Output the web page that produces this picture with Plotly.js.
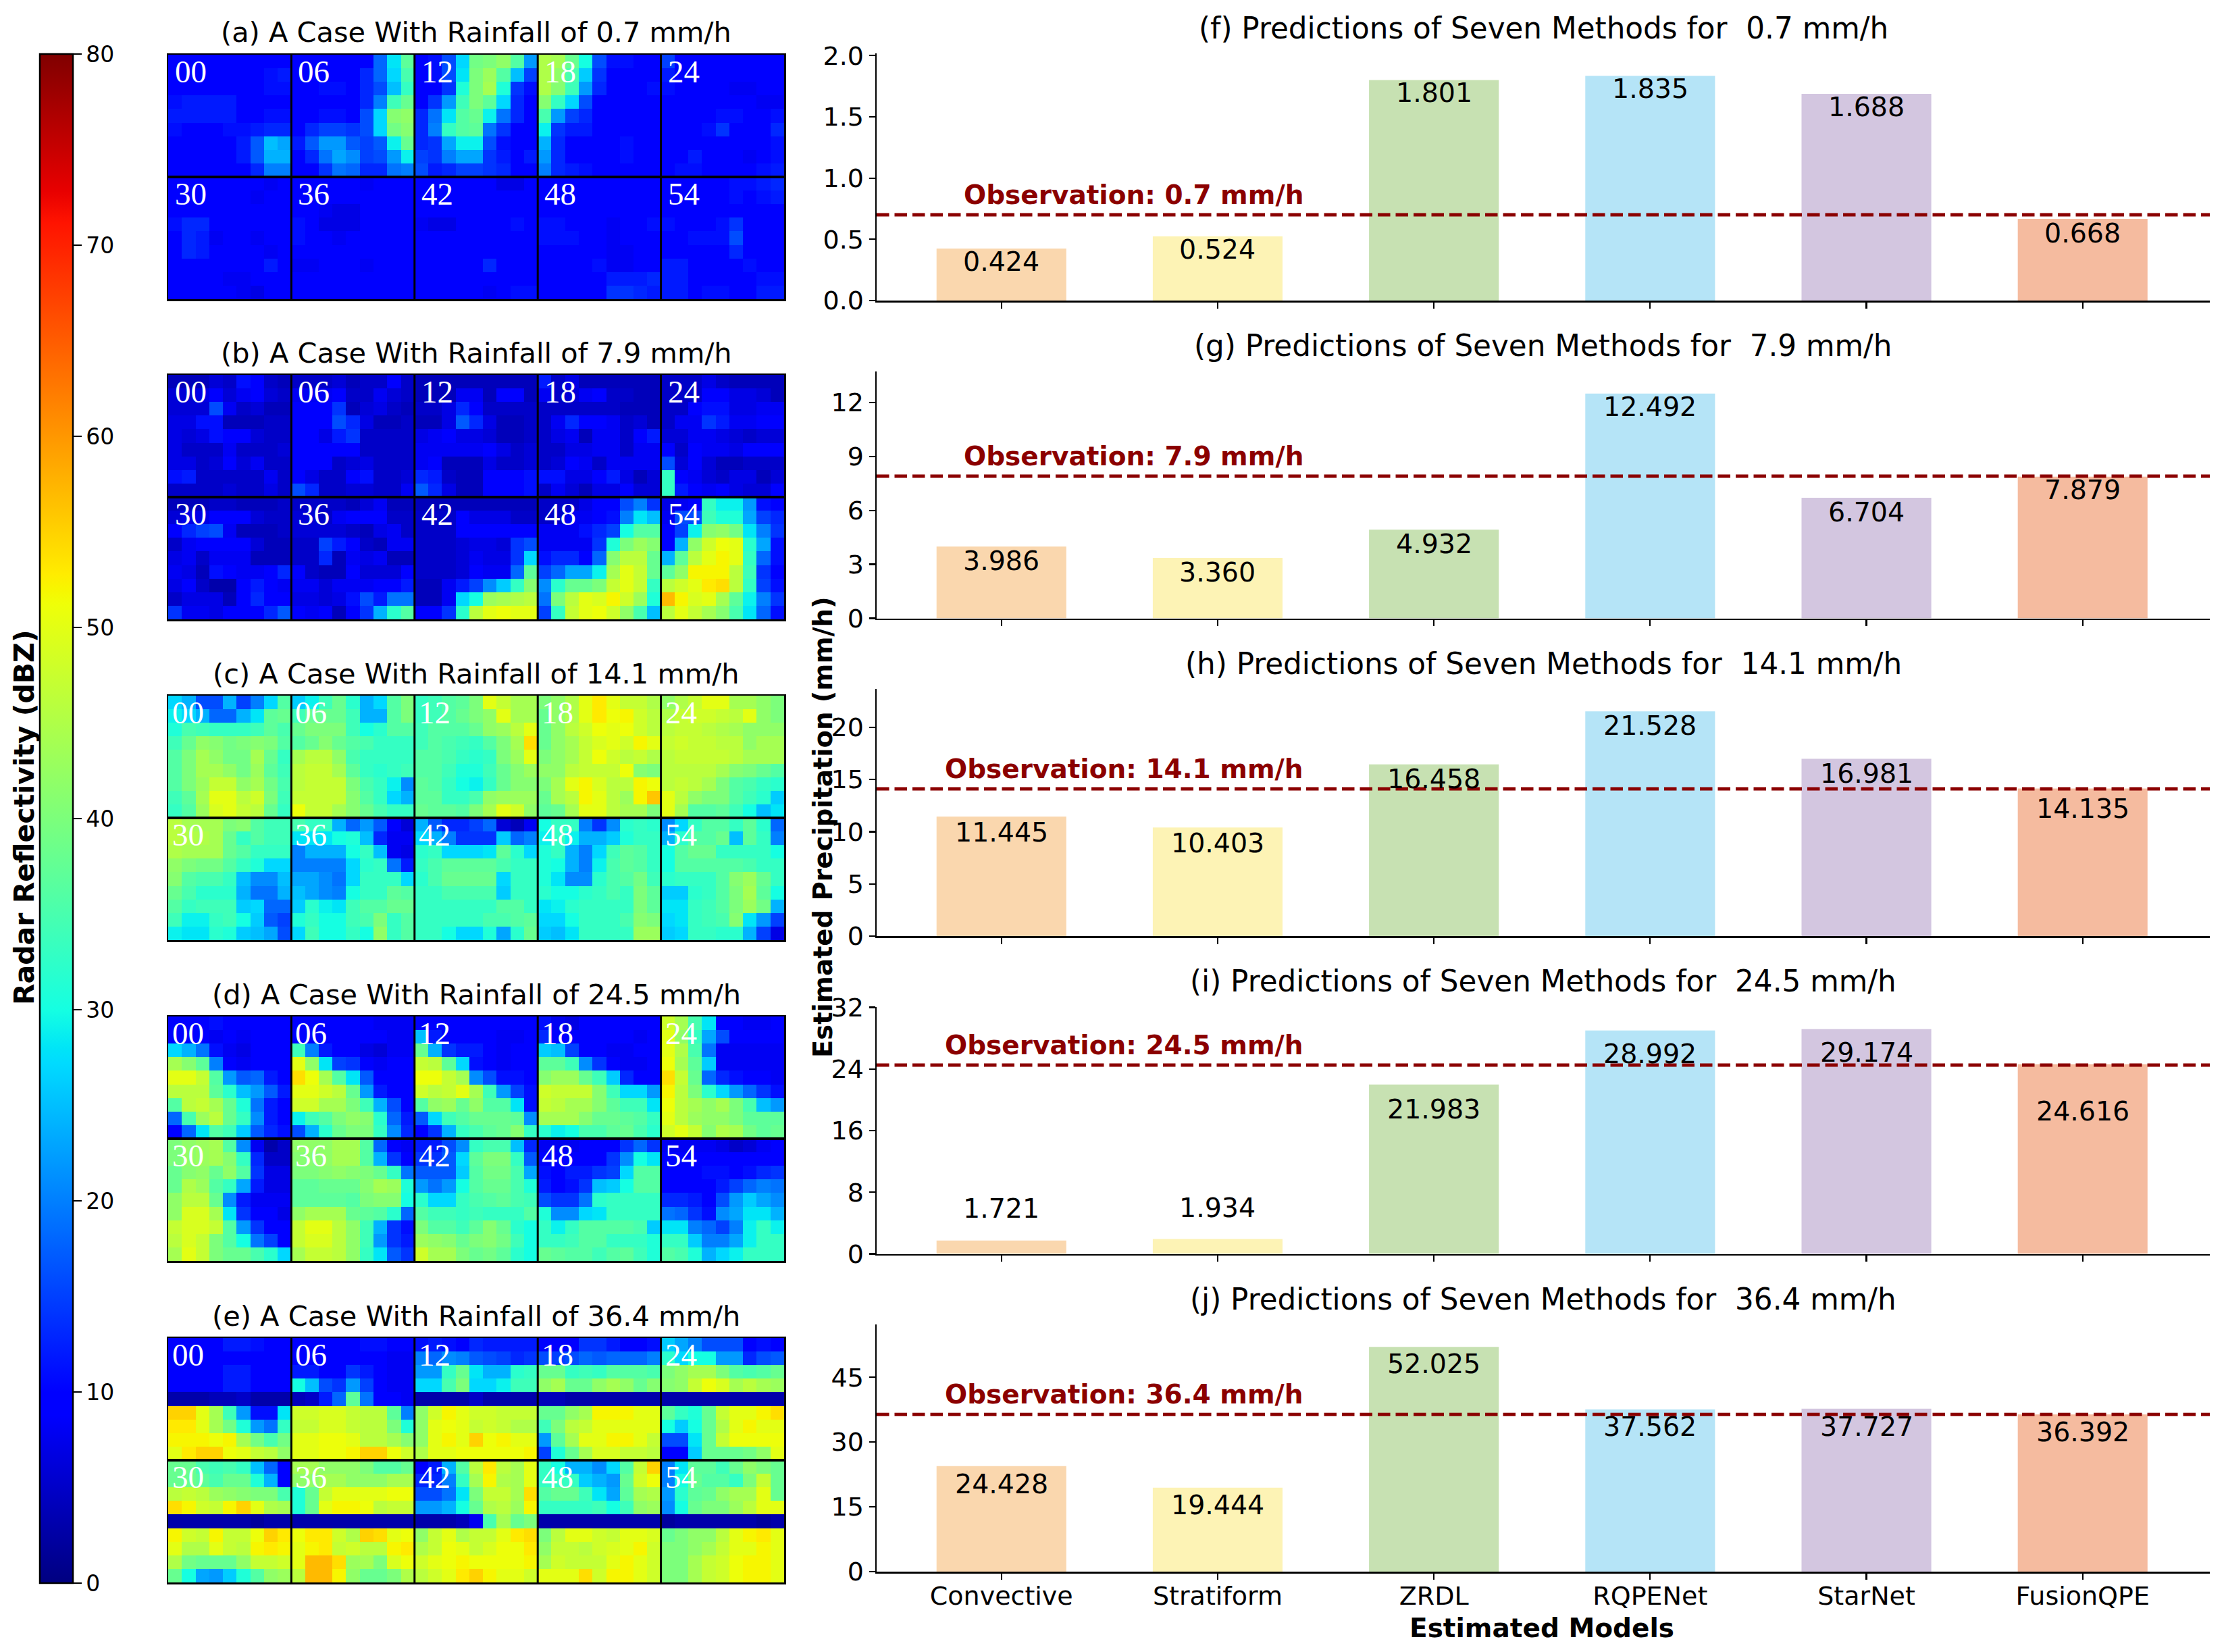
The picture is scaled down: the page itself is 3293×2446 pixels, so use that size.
<!DOCTYPE html>
<html><head><meta charset="utf-8">
<script src="https://cdn.plot.ly/plotly-3.0.1.min.js"></script>
<style>html,body{margin:0;padding:0;background:#fff}</style></head>
<body><div id="chart" style="width:3293px;height:2446px"></div>
<script>
const models=["Convective","Stratiform","ZRDL","RQPENet","StarNet","FusionQPE"];
const frameLabels=["00","06","12","18","24","30","36","42","48","54"];
const observed=[0.7,7.9,14.1,24.5,36.4];
const predF=[0.424,0.524,1.801,1.835,1.688,0.668];
const predG=[3.986,3.360,4.932,12.492,6.704,7.879];
const predH=[11.445,10.403,16.458,21.528,16.981,14.135];
const predI=[1.721,1.934,21.983,28.992,29.174,24.616];
const predJ=[24.428,19.444,52.025,37.562,37.727,36.392];
const yTickSteps=[0.5,3,5,8,15];
const barColors=["#FAD7AE","#FDF3B5","#C7E1B2","#B5E4F7","#D3C6E0","#F5BB9F"];
const caseA=[
[[9,9,9,9,9,9,10,10,10],[10,10,9,9,9,9,10,11,12],[10,10,10,10,10,10,10,11,11],[11,12,12,12,12,10,10,10,10],[12,12,12,12,12,10,10,11,11],[11,10,10,10,11,11,12,13,13],[10,10,9,9,10,12,17,25,23],[10,10,10,10,10,12,17,24,24],[10,10,10,10,10,10,13,20,20]],
[[10,10,10,10,10,10,18,28,37],[10,10,10,10,10,13,18,27,35],[10,10,11,11,10,13,16,25,33],[9,9,10,10,10,13,20,34,38],[10,10,11,11,10,16,27,41,42],[10,13,15,15,14,16,27,39,41],[12,17,22,22,17,15,17,29,38],[10,13,19,23,21,15,16,22,29],[9,10,14,19,18,13,13,19,20]],
[[10,11,16,27,39,40,42,36,22],[10,11,16,28,40,43,36,25,15],[10,10,14,31,40,44,31,14,11],[10,14,22,34,40,37,27,13,10],[13,19,28,36,38,29,19,13,10],[13,20,33,36,37,19,14,10,10],[13,14,23,29,29,16,11,9,9],[15,14,20,23,23,14,12,10,12],[16,12,13,15,15,14,13,10,10]],
[[45,44,38,30,16,11,11,10,10],[45,42,35,26,14,10,10,10,10],[45,41,34,22,13,10,10,10,11],[41,33,27,16,10,10,10,10,10],[35,22,15,13,10,10,10,10,10],[29,14,12,12,10,10,10,10,10],[24,13,10,10,10,10,11,10,10],[22,13,10,10,9,9,11,10,10],[20,13,12,11,9,9,10,10,10]],
[[15,10,10,10,10,10,10,10,10],[12,10,10,10,10,10,10,9,9],[11,10,10,10,10,8,8,9,9],[10,10,10,10,10,9,9,8,8],[10,10,10,10,11,11,10,9,11],[10,10,10,11,14,10,10,10,13],[9,10,10,10,10,10,9,10,11],[10,10,12,10,10,9,8,10,11],[10,11,11,10,10,10,10,11,12]],
[[9,9,9,9,9,9,9,8,9],[9,9,9,9,9,9,8,9,9],[10,10,10,9,9,9,9,9,9],[11,13,13,9,9,9,9,9,9],[10,13,12,8,9,9,8,9,9],[10,13,12,9,9,9,9,8,9],[9,9,9,9,9,9,9,12,9],[9,9,9,9,8,8,9,10,9],[10,9,9,9,9,8,7,9,9]],
[[10,10,10,9,9,8,9,10,10],[10,10,10,10,9,9,9,10,10],[10,10,8,7,7,9,9,9,10],[11,9,7,7,7,9,9,9,9],[11,10,9,8,9,9,9,9,9],[10,9,9,9,9,9,10,10,10],[8,8,9,9,9,8,10,10,10],[10,9,9,9,9,9,10,10,10],[10,10,10,10,10,10,10,10,10]],
[[10,10,10,10,10,9,7,7,9],[10,10,10,10,10,10,9,9,9],[10,10,10,10,10,10,9,9,10],[8,7,7,9,9,9,10,11,10],[9,9,9,9,9,9,9,9,9],[9,9,9,9,9,9,9,9,10],[9,9,9,9,9,13,10,9,10],[9,9,9,9,9,10,10,10,10],[9,9,9,9,10,8,9,11,11]],
[[10,10,10,10,9,9,10,10,10],[10,10,10,10,9,9,10,10,10],[10,10,10,10,9,9,9,10,10],[11,11,10,10,10,8,9,10,11],[11,11,11,10,10,8,9,9,10],[10,10,10,10,10,8,8,9,10],[10,10,10,10,11,8,8,9,10],[9,10,10,10,10,12,12,12,13],[9,10,10,10,10,14,14,13,12]],
[[10,10,10,10,10,11,11,12,13],[10,10,10,10,10,11,10,11,12],[10,10,10,10,10,10,10,10,10],[11,10,10,10,11,14,10,10,10],[10,10,11,11,11,16,10,10,10],[10,10,10,10,10,13,10,10,10],[12,12,10,10,10,10,11,10,10],[12,12,10,10,10,9,10,11,11],[12,12,10,11,11,9,10,12,12]]];
const caseB=[
[[4,4,4,6,5,11,9,5,4],[6,6,7,10,6,8,10,6,5],[6,6,6,16,8,5,6,4,4],[7,7,11,11,4,4,4,5,5],[7,6,7,11,10,10,6,5,5],[7,5,5,5,8,5,5,5,6],[7,7,5,6,10,6,8,5,5],[11,12,5,5,5,5,5,8,5],[5,5,5,5,6,5,5,7,5]],
[[5,5,5,6,4,5,5,9,5],[8,8,8,10,5,5,8,6,5],[9,9,9,14,4,6,7,5,4],[10,10,9,16,13,7,4,4,5],[10,10,7,12,14,5,5,5,5],[10,10,9,9,9,5,5,5,5],[10,10,9,5,6,7,5,5,5],[10,7,5,5,9,11,5,5,6],[16,13,5,5,6,6,5,5,8]],
[[4,4,4,4,4,4,4,4,4],[4,4,4,8,8,4,10,10,4],[5,5,7,13,10,5,5,5,5],[4,4,7,17,13,7,4,4,5],[7,8,10,7,7,6,4,4,5],[8,8,8,8,8,10,7,5,6],[8,9,4,4,4,7,5,5,6],[13,12,5,4,4,9,10,10,11],[17,13,7,4,4,10,9,9,11]],
[[12,5,7,4,4,4,4,4,4],[8,5,6,8,9,5,5,4,4],[5,5,5,5,5,5,4,4,4],[5,8,13,10,10,8,5,6,4],[5,7,8,4,8,8,5,10,12],[5,5,7,7,8,8,5,8,8],[5,6,10,8,5,8,8,8,8],[11,11,7,7,9,12,7,4,6],[5,8,6,4,7,7,10,6,6]],
[[5,5,5,7,5,4,4,4,4],[5,5,5,9,9,7,7,6,4],[5,5,10,11,11,7,7,8,8],[5,8,8,14,12,8,8,9,10],[6,6,8,8,7,6,5,6,6],[9,5,9,8,8,7,9,9,10],[16,6,10,6,4,4,5,5,5],[33,10,8,6,5,7,7,4,6],[33,12,9,8,9,7,6,6,10]],
[[4,4,4,5,5,4,4,4,5],[6,7,7,9,9,10,6,5,5],[9,13,15,16,8,4,4,4,5],[5,8,10,10,9,9,6,4,4],[7,8,5,8,8,8,4,4,4],[8,7,4,11,9,8,8,10,13],[7,9,5,3,3,9,12,9,8],[5,7,7,7,4,9,13,10,9],[14,8,8,7,9,9,9,13,17]],
[[5,5,5,5,4,6,8,4,4],[6,6,5,8,10,10,10,5,5],[6,6,6,6,5,4,7,8,5],[5,5,15,12,10,5,4,8,8],[5,5,13,4,8,7,8,4,4],[9,5,4,4,10,6,6,6,9],[8,8,6,8,8,8,9,9,12],[7,7,6,7,11,16,12,19,19],[9,8,9,4,10,14,24,32,36]],
[[4,4,4,4,4,4,4,4,4],[5,5,5,9,7,7,7,5,5],[5,5,5,9,9,9,9,9,9],[5,5,5,6,7,7,6,14,16],[5,5,5,6,8,7,7,14,27],[5,5,5,6,10,8,8,18,37],[4,4,8,12,15,21,26,33,41],[4,4,8,27,30,43,44,45,46],[10,10,14,32,46,50,51,50,50]],
[[5,5,5,7,10,10,16,20,14],[5,5,8,8,9,11,20,28,25],[8,8,8,11,13,15,30,36,36],[8,8,8,8,14,31,40,43,41],[11,13,13,9,18,41,46,46,38],[15,18,23,23,29,44,50,47,38],[21,32,38,38,40,47,50,47,33],[19,40,46,50,49,52,48,43,31],[15,33,47,50,51,48,42,35,25]],
[[7,8,10,33,29,29,22,11,10],[8,16,16,34,31,31,23,15,13],[10,15,29,41,42,39,28,20,14],[10,24,42,48,51,50,32,23,11],[24,37,46,50,52,50,33,18,11],[37,42,52,52,52,46,34,14,9],[46,48,50,53,54,46,33,15,11],[57,52,49,50,44,37,29,20,14],[46,50,47,44,41,35,28,18,11]]];
const caseC=[
[[27,24,16,16,24,15,20,27,36],[29,27,24,18,18,24,28,37,38],[31,35,34,33,33,33,34,37,35],[34,38,42,41,39,40,41,40,36],[36,40,44,42,39,39,44,38,33],[36,40,44,44,42,39,43,37,34],[36,40,43,47,47,42,44,39,35],[34,37,44,50,50,46,48,40,34],[33,36,43,49,50,47,46,38,33]],
[[26,29,34,38,32,24,27,36,40],[34,38,38,38,34,24,24,36,40],[38,40,40,40,34,30,32,36,36],[36,38,41,38,36,35,33,33,33],[44,46,46,42,35,33,33,33,33],[46,47,47,44,37,33,32,33,34],[46,47,47,47,40,35,33,29,21],[47,47,47,47,41,36,33,27,24],[51,47,47,44,41,38,35,33,33]],
[[33,34,36,37,40,50,47,44,44],[33,34,36,38,40,42,50,44,44],[34,36,36,36,38,42,43,46,50],[34,36,35,34,33,36,40,44,54],[36,36,35,33,32,33,40,43,50],[36,36,34,31,31,34,38,41,43],[37,36,33,30,29,33,38,41,41],[37,37,33,33,35,42,43,43,43],[38,37,37,36,40,44,50,48,42]],
[[40,42,45,50,53,50,47,47,45],[38,42,45,50,53,51,52,48,46],[38,42,46,48,51,50,51,48,46],[38,42,44,47,49,50,48,52,50],[40,42,44,47,51,48,46,47,45],[42,42,46,47,47,47,51,41,40],[40,44,50,52,49,46,46,52,51],[38,44,46,52,50,46,43,52,56],[37,38,44,50,50,46,44,44,40]],
[[42,45,47,50,50,44,44,42,40],[45,47,48,48,47,46,50,42,40],[46,47,47,46,45,44,42,42,42],[47,48,47,47,46,46,42,44,44],[46,47,47,47,47,46,44,44,44],[46,46,46,46,44,41,40,38,36],[46,47,46,44,40,36,35,33,32],[50,46,42,40,40,36,34,32,26],[50,44,36,36,37,34,30,25,28]],
[[46,44,44,44,40,41,36,34,34],[46,45,45,44,38,33,36,34,34],[45,44,44,44,38,36,33,33,33],[42,40,39,39,36,33,31,27,27],[41,36,35,35,33,25,21,21,25],[38,35,32,32,32,24,19,19,24],[36,33,34,34,34,26,27,18,18],[34,29,29,33,34,30,26,17,15],[29,28,28,32,31,26,25,23,16]],
[[35,33,33,24,18,22,17,9,6],[28,28,28,30,31,25,13,8,8],[20,24,24,24,30,33,25,8,7],[20,20,20,20,27,32,33,19,12],[23,23,21,19,27,33,33,33,27],[25,23,21,20,30,33,33,37,36],[26,32,29,28,34,36,36,38,38],[31,33,30,30,34,35,40,33,36],[27,34,30,30,33,30,42,33,36]],
[[24,17,13,13,15,18,6,4,8],[27,24,20,14,14,14,26,18,20],[32,33,27,27,27,28,37,32,27],[33,35,37,37,37,37,35,33,33],[32,35,38,38,38,38,27,33,33],[33,33,35,35,35,35,26,33,33],[33,33,33,33,33,33,36,36,33],[33,33,33,33,33,35,35,36,37],[33,33,30,27,27,31,23,32,38]],
[[30,33,33,20,14,21,32,33,32],[29,33,29,24,24,26,31,33,33],[31,33,24,20,27,34,37,36,33],[31,30,24,20,29,35,37,36,33],[31,28,21,21,32,35,36,39,34],[32,30,30,32,33,35,33,40,37],[28,29,32,33,33,33,33,40,37],[27,27,30,33,33,33,35,41,40],[26,25,28,33,33,33,33,43,43]],
[[21,27,33,36,36,33,37,32,18],[24,32,36,36,38,25,37,33,20],[30,36,38,38,33,33,33,33,30],[30,36,36,36,36,36,35,33,33],[32,33,33,33,36,41,43,38,33],[26,26,32,33,36,40,44,37,30],[28,28,33,34,36,40,43,39,24],[27,28,33,34,35,41,28,22,15],[26,27,33,33,32,32,24,15,7]]];
const caseD=[
[[10,10,10,11,10,9,9,9,9],[10,10,10,8,10,8,9,9,9],[27,24,19,11,8,7,9,9,9],[44,41,37,20,9,8,9,9,9],[50,50,47,36,22,17,18,12,9],[46,46,46,37,32,25,22,17,12],[36,46,47,44,38,31,19,12,10],[18,35,43,46,38,33,21,12,10],[10,18,28,36,34,26,17,13,11]],
[[9,9,9,9,9,9,8,8,8],[10,9,9,9,9,9,9,8,8],[34,20,12,9,9,7,6,8,8],[50,42,28,15,14,9,8,9,9],[54,51,44,36,28,17,10,9,9],[50,50,48,46,38,22,12,9,9],[48,48,44,44,40,34,24,16,10],[29,34,36,40,42,41,32,18,12],[16,24,32,38,40,40,33,21,13]],
[[10,10,10,10,9,9,9,9,9],[25,12,9,9,9,9,8,8,9],[38,24,14,12,12,9,8,9,9],[47,46,37,27,11,9,8,9,9],[51,51,47,44,21,16,11,11,9],[48,46,47,50,44,34,22,15,11],[36,42,43,38,42,36,36,28,11],[17,27,34,36,38,38,38,37,21],[10,14,24,33,35,37,38,41,33]],
[[11,8,7,9,9,9,9,9,9],[13,10,9,9,9,9,9,8,9],[26,25,15,9,9,8,8,9,9],[37,37,34,21,14,10,8,8,9],[41,43,43,38,34,26,13,10,9],[48,47,47,47,41,34,27,27,22],[47,46,44,44,41,37,34,34,28],[44,44,44,41,38,38,37,36,33],[32,29,30,35,35,37,38,35,32]],
[[48,44,35,28,9,9,8,8,9],[50,42,33,23,16,9,9,9,9],[50,45,35,19,8,8,8,8,8],[51,44,37,26,8,8,8,8,8],[54,47,38,18,13,11,9,9,8],[52,46,40,32,27,22,18,14,11],[51,46,44,42,44,40,35,25,22],[50,46,43,42,42,40,37,37,37],[48,50,47,41,45,44,39,37,38]],
[[40,42,43,44,36,21,8,3,5],[40,42,43,44,41,33,13,5,5],[38,41,42,38,42,36,14,7,7],[38,45,43,36,33,23,12,7,7],[42,46,46,38,21,12,8,8,8],[42,49,49,44,28,14,9,9,7],[47,49,49,47,36,22,14,9,9],[46,49,47,40,36,30,19,15,10],[44,50,47,40,38,38,35,32,27]],
[[42,42,42,44,44,36,18,10,8],[41,41,42,44,44,36,24,14,9],[40,40,41,42,41,40,38,33,19],[37,37,38,38,38,41,44,43,31],[37,37,37,37,36,40,41,41,30],[42,44,44,44,38,37,36,32,18],[47,50,50,46,42,34,24,14,11],[47,49,49,46,42,34,22,14,12],[44,47,47,46,42,33,28,17,14]],
[[12,12,16,21,33,35,35,25,13],[14,14,17,27,37,40,40,33,17],[17,17,17,26,36,39,39,35,23],[22,19,22,30,36,38,38,35,31],[32,27,27,33,35,36,37,35,34],[36,34,34,33,34,33,33,33,36],[40,36,36,34,37,41,38,32,30],[43,42,41,38,40,41,39,34,30],[48,44,44,40,38,39,37,32,30]],
[[8,8,8,9,9,10,14,18,14],[9,9,9,9,9,14,21,30,28],[11,10,12,12,14,15,27,36,36],[12,10,11,14,25,26,30,36,36],[16,14,14,19,32,33,33,33,33],[31,21,21,27,28,33,33,33,33],[33,29,33,36,36,36,36,35,26],[33,33,34,36,36,33,33,33,31],[38,37,36,36,34,36,37,34,31]],
[[8,8,8,8,7,5,6,8,9],[9,10,10,10,9,9,9,9,10],[9,9,9,11,11,10,11,13,14],[9,9,9,9,12,15,18,20,19],[13,13,12,10,16,22,26,23,21],[19,18,14,11,21,23,28,28,24],[28,28,20,18,15,20,29,33,29],[33,33,26,20,20,23,29,33,33],[36,35,31,24,27,29,33,33,33]]];
const caseE=[
[[10,10,10,10,12,12,11,10,10],[10,10,10,10,10,10,9,9,9],[10,10,10,10,12,12,10,9,9],[10,10,10,10,12,12,10,10,10],[3,3,3,4,4,5,3,3,3],[55,55,50,44,34,22,11,11,28],[53,53,50,44,39,31,22,19,33],[52,52,52,51,52,44,39,35,39],[50,53,55,55,51,50,47,46,42]],
[[10,10,10,10,10,11,11,10,10],[10,10,10,10,10,10,9,8,8],[12,12,10,9,14,12,9,8,8],[30,25,16,14,22,15,9,8,8],[4,5,12,18,37,19,10,10,8],[48,48,49,49,47,46,46,37,20],[47,47,49,49,47,46,46,40,31],[50,50,51,51,50,46,46,44,41],[50,50,51,51,52,55,55,51,48]],
[[11,12,11,10,13,12,12,12,12],[20,18,21,20,17,16,15,13,14],[22,22,33,38,28,24,24,32,33],[27,27,35,40,27,27,29,34,34],[3,3,3,3,5,3,3,3,3],[42,48,52,50,48,48,47,47,47],[42,50,51,50,47,48,47,45,45],[42,50,52,50,55,51,52,50,50],[45,50,50,51,51,51,51,51,52]],
[[10,10,10,14,14,12,10,10,11],[16,15,16,18,17,18,18,18,20],[38,38,33,34,33,36,36,36,35],[42,44,38,38,42,44,42,38,41],[4,4,3,3,3,3,3,3,3],[38,38,42,44,52,52,52,50,50],[34,40,46,47,50,50,50,50,50],[22,37,44,50,50,52,52,50,47],[15,31,38,44,49,49,47,47,46]],
[[26,23,20,16,16,16,10,11,9],[32,27,30,30,22,22,13,16,17],[40,42,44,44,40,36,35,36,38],[41,42,47,51,49,44,46,44,43],[3,3,3,3,3,3,3,3,3],[37,33,31,38,47,50,50,52,54],[30,26,30,38,45,50,52,50,50],[16,16,28,38,47,51,51,51,51],[10,10,26,38,38,38,39,42,50]],
[[38,38,35,34,35,33,25,18,10],[38,38,37,35,38,38,31,24,10],[46,47,46,43,42,41,40,40,35],[54,52,48,47,52,55,50,45,44],[3,3,3,3,3,3,2,3,3],[52,48,47,52,47,47,51,55,53],[50,45,45,50,47,46,52,53,52],[45,39,38,38,38,42,47,47,48],[38,30,23,22,26,31,36,42,43]],
[[44,44,42,42,42,40,36,36,38],[42,42,44,44,42,42,42,44,44],[31,38,47,50,50,50,50,51,51],[31,38,50,52,52,51,46,47,47],[3,3,3,3,3,3,3,3,3],[51,53,53,48,45,55,54,50,51],[50,52,53,47,48,46,46,52,53],[50,57,57,54,43,44,40,49,51],[46,57,57,52,42,38,38,40,45]],
[[10,12,24,36,46,53,46,44,50],[13,13,20,33,44,52,45,44,50],[16,16,19,28,40,47,47,44,54],[22,22,24,30,38,45,46,43,52],[3,3,3,4,8,35,44,38,40],[42,47,50,45,47,47,50,53,54],[45,47,51,50,47,49,51,51,53],[48,50,51,52,51,51,51,51,52],[46,48,50,53,55,52,50,50,48]],
[[33,30,24,24,21,27,36,47,55],[33,33,33,26,24,22,38,48,51],[36,38,38,34,28,23,37,44,45],[33,33,33,33,34,30,34,42,43],[3,3,3,3,3,3,3,3,3],[40,46,50,50,48,47,50,50,49],[42,47,47,46,48,49,50,52,48],[44,48,47,47,47,50,52,50,48],[50,50,50,54,48,52,52,50,48]],
[[20,28,37,37,34,38,42,40,38],[20,30,38,36,36,33,40,47,38],[22,32,37,38,42,44,44,50,38],[21,30,38,40,40,43,46,50,50],[2,3,3,3,3,3,3,2,3],[38,40,42,42,46,50,52,53,50],[40,40,42,44,47,50,50,52,50],[40,40,44,47,48,51,52,52,50],[40,40,44,47,48,51,52,52,50]]];

const W=3293,H=2446,FONT='"DejaVu Sans",sans-serif';
const fx=p=>p/W, fy=p=>1-p/H;
const heatTop=[81,555,1030,1505,1981], heatH=362, heatL=249, heatR=1161;
const barBottom=[445,915.5,1386,1856.5,2327], barH=366, barL=1298, barR=3272;
const heatTitles=["(a)","(b)","(c)","(d)","(e)"], barTitles=["(f)","(g)","(h)","(i)","(j)"];
const cases=[caseA,caseB,caseC,caseD,caseE], preds=[predF,predG,predH,predI,predJ];
const labelShift=[
 [-19,-19,-19,-19,-19,-21],[-21,-21,-21,-19,-21,-19],[-23,-23,-21,-21,-21,-29],[48,46,-36,-34,-34,-69],[-26,-25,-25,-25,-26,-26]];
const obsDx=1.403;

function jet(){
 const R=[[0,0],[.35,0],[.66,1],[.89,1],[1,.5]],G=[[0,0],[.125,0],[.375,1],[.64,1],[.91,0],[1,0]],B=[[0,.5],[.11,1],[.34,1],[.65,0],[1,0]];
 const at=(S,t)=>{for(let i=1;i<S.length;i++)if(t<=S[i][0]){const a=S[i-1],b=S[i];return a[1]+(b[1]-a[1])*(t-a[0])/(b[0]-a[0]);}return S[S.length-1][1];};
 const ts=[...new Set([...R,...G,...B].map(s=>s[0]))].sort((a,b)=>a-b);
 return ts.map(t=>[t,`rgb(${Math.round(at(R,t)*255)},${Math.round(at(G,t)*255)},${Math.round(at(B,t)*255)})`]);
}
const scale=jet();
const traces=[],shapes=[],annotations=[],layout={
 width:W,height:H,autosize:false,paper_bgcolor:'#fff',plot_bgcolor:'#fff',showlegend:false,
 margin:{l:0,r:0,t:0,b:0,autoexpand:false},font:{family:FONT,color:'#000'}};
function text(x,y,t,size,opt){annotations.push(Object.assign({xref:'paper',yref:'paper',x:fx(x),y:fy(y),text:t,showarrow:false,xanchor:'center',yanchor:'middle',font:{family:FONT,size:size,color:'#000'}},opt||{}));}

cases.forEach((frames,i)=>{
 const n=i+1, xn='x'+(n===1?'':n), yn='y'+(n===1?'':n);
 const grid=[];
 for(let r=0;r<18;r++){const row=[];const tier=r<9?0:5;const rr=r%9;for(let f=0;f<5;f++)row.push(...frames[tier+f][rr]);grid.push(row);}
 const t={type:'heatmap',z:grid,xaxis:xn,yaxis:yn,zmin:0,zmax:80,colorscale:scale,hoverinfo:'skip',zsmooth:false,showscale:i===0};
 if(i===0)t.colorbar={x:fx(59),xanchor:'left',y:fy(1212),yanchor:'middle',len:2264/H,lenmode:'fraction',thickness:49,thicknessmode:'pixels',xpad:0,ypad:0,
   tick0:0,dtick:10,ticks:'outside',ticklen:12,tickwidth:2.5,tickcolor:'#000',outlinecolor:'#000',outlinewidth:2.5,tickfont:{family:FONT,size:33,color:'#000'}};
 traces.push(t);
 const ax={showgrid:false,zeroline:false,showticklabels:false,ticks:'',showline:true,mirror:true,linecolor:'#000',linewidth:2.5};
 layout['xaxis'+(n===1?'':n)]=Object.assign({},ax,{domain:[fx(heatL),fx(heatR)],range:[-0.5,44.5],anchor:yn});
 layout['yaxis'+(n===1?'':n)]=Object.assign({},ax,{domain:[fy(heatTop[i]+heatH),fy(heatTop[i])],range:[17.5,-0.5],anchor:xn});
 for(let k=1;k<5;k++)shapes.push({type:'line',xref:xn,yref:yn,x0:9*k-.5,x1:9*k-.5,y0:-.5,y1:17.5,line:{color:'#000',width:3}});
 shapes.push({type:'line',xref:xn,yref:yn,x0:-.5,x1:44.5,y0:8.5,y1:8.5,line:{color:'#000',width:4}});
 frameLabels.forEach((lab,f)=>{
  annotations.push({xref:xn,yref:yn,x:(f%5)*9-.5,y:f<5?-.5:8.5,text:lab,showarrow:false,xanchor:'left',yanchor:'middle',xshift:i<2?8:4,yshift:-25,
   font:{family:'"Liberation Serif",serif',size:47,color:'#fff'}});
 });
 text((heatL+heatR)/2,heatTop[i]-33,`${heatTitles[i]} A Case With Rainfall of ${observed[i]} mm/h`,41.5);
});

preds.forEach((vals,i)=>{
 const n=i+6, xn='x'+n, yn='y'+n, top=Math.max(...vals)*1.1;
 traces.push({type:'bar',x:[0,1,2,3,4,5],y:vals,width:.6,xaxis:xn,yaxis:yn,marker:{color:barColors,line:{width:0}},hoverinfo:'skip'});
 const ax={showgrid:false,zeroline:false,showline:true,linecolor:'#000',linewidth:2.5,ticks:'outside',tickcolor:'#000',ticklen:9,tickwidth:2.2,tickfont:{family:FONT,size:38,color:'#000'}};
 layout['xaxis'+n]=Object.assign({},ax,{domain:[fx(barL),fx(barR)],range:[-.577,5.588],anchor:yn,tickmode:'array',tickvals:[0,1,2,3,4,5],ticktext:models,showticklabels:i===4,ticklabelstandoff:-8});
 layout['yaxis'+n]=Object.assign({},ax,{domain:[fy(barBottom[i]),fy(barBottom[i]-barH)],range:[0,top],anchor:xn,tick0:0,dtick:yTickSteps[i],tickformat:i===0?'.1f':'d'});
 shapes.push({type:'line',xref:xn+' domain',yref:yn,x0:0,x1:1,y0:observed[i],y1:observed[i],line:{color:'#8B0000',width:5,dash:'18.5px,8px'}});
 vals.forEach((v,k)=>annotations.push({xref:xn,yref:yn,x:k,y:v,text:v.toFixed(3),showarrow:false,xanchor:'center',yanchor:'middle',yshift:labelShift[i][k],font:{family:FONT,size:39.5,color:'#000'}}));
 annotations.push({xref:xn,yref:yn,x:obsDx,y:observed[i],text:`Observation: ${observed[i]} mm/h`,showarrow:false,xanchor:'right',yanchor:'bottom',yshift:5,font:{family:FONT,size:39,color:'#8B0000',weight:'bold'}});
 text((barL+barR)/2,barBottom[i]-barH-38,`${barTitles[i]} Predictions of Seven Methods for  ${observed[i]} mm/h`,43.7);
});
text(2283,2410,'Estimated Models',39,{font:{family:FONT,size:39,color:'#000',weight:'bold'}});
text(1218,1225,'Estimated Precipitation (mm/h)',38.5,{textangle:-90,font:{family:FONT,size:38.5,color:'#000',weight:'bold'}});
text(36,1211,'Radar Reflectivity (dBZ)',41,{textangle:-90,font:{family:FONT,size:41,color:'#000',weight:'bold'}});
layout.shapes=shapes;layout.annotations=annotations;
Plotly.newPlot('chart',traces,layout,{displayModeBar:false,staticPlot:true});
</script></body></html>
